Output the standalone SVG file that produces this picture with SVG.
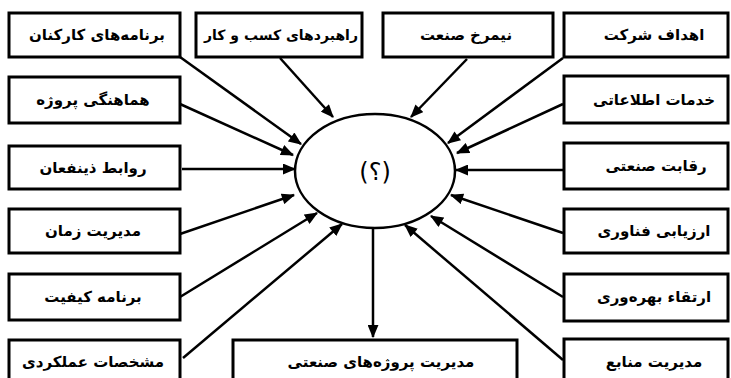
<svg xmlns="http://www.w3.org/2000/svg" width="731" height="378" viewBox="0 0 731 378">
<style>
.box{fill:#fff;stroke:#000;stroke-width:3}
.lbl{font-family:"DejaVu Sans",sans-serif;font-size:15px;font-weight:bold;fill:#000;text-anchor:middle}
.con{stroke:#000;stroke-width:2.5;fill:none;marker-end:url(#ah)}
</style>
<defs>
<marker id="ah" viewBox="0 0 12 10" refX="11" refY="5" markerWidth="5.5" markerHeight="4.4" markerUnits="strokeWidth" orient="auto">
<path d="M0,0 L12,5 L0,10 Z" fill="#000"/>
</marker>
</defs>
<rect width="731" height="378" fill="#fff"/>
<g id="connectors">
<line class="con" x1="180" y1="57" x2="301" y2="144"/>
<line class="con" x1="180" y1="104" x2="293" y2="155"/>
<line class="con" x1="182" y1="169" x2="295" y2="169"/>
<line class="con" x1="180" y1="234" x2="294" y2="195"/>
<line class="con" x1="180" y1="297" x2="317" y2="213"/>
<line class="con" x1="183" y1="358" x2="342" y2="224"/>
<line class="con" x1="280" y1="58" x2="333" y2="117"/>
<line class="con" x1="467" y1="59" x2="411" y2="117"/>
<line class="con" x1="563" y1="58" x2="448" y2="143"/>
<line class="con" x1="563" y1="104" x2="457" y2="153"/>
<line class="con" x1="564" y1="170" x2="456" y2="170"/>
<line class="con" x1="563" y1="233" x2="451" y2="195"/>
<line class="con" x1="563" y1="297" x2="431" y2="216"/>
<line class="con" x1="563" y1="360" x2="405" y2="225"/>
<line class="con" x1="373" y1="228" x2="373" y2="337"/>
</g>
<g id="center">
<ellipse cx="375" cy="171" rx="80" ry="57" fill="#fff" stroke="#000" stroke-width="2.5"/>
<text x="375" y="180" style="font-family:'DejaVu Sans',sans-serif;font-size:24px;text-anchor:middle">(؟)</text>
</g>
<g id="n1"><rect class="box" x="9" y="13" width="171" height="44"/><text class="lbl" x="97" y="40">برنامه‌های کارکنان</text></g>
<g id="n2"><rect class="box" x="196" y="13" width="166" height="44"/><text class="lbl" x="281" y="40" style="font-size:14px">راهبردهای کسب و کار</text></g>
<g id="n3"><rect class="box" x="383" y="13" width="170" height="44"/><text class="lbl" x="466" y="40">نیمرخ صنعت</text></g>
<g id="n4"><rect class="box" x="564" y="13" width="164" height="44"/><text class="lbl" x="654" y="40">اهداف شرکت</text></g>
<g id="n5"><rect class="box" x="9" y="77" width="171" height="46"/><text class="lbl" x="93" y="105">هماهنگی پروژه</text></g>
<g id="n6"><rect class="box" x="564" y="76" width="164" height="47"/><text class="lbl" x="654" y="105">خدمات اطلاعاتی</text></g>
<g id="n7"><rect class="box" x="9" y="146" width="171" height="43"/><text class="lbl" x="93" y="173">روابط ذینفعان</text></g>
<g id="n8"><rect class="box" x="564" y="143" width="164" height="46"/><text class="lbl" x="656" y="171">رقابت صنعتی</text></g>
<g id="n9"><rect class="box" x="9" y="209" width="171" height="44"/><text class="lbl" x="93" y="236">مدیریت زمان</text></g>
<g id="n10"><rect class="box" x="564" y="209" width="164" height="44"/><text class="lbl" x="654" y="236">ارزیابی فناوری</text></g>
<g id="n11"><rect class="box" x="9" y="274" width="171" height="46"/><text class="lbl" x="93" y="302">برنامه کیفیت</text></g>
<g id="n12"><rect class="box" x="564" y="274" width="164" height="47"/><text class="lbl" x="654" y="302">ارتقاء بهره‌وری</text></g>
<g id="n13"><rect class="box" x="9" y="340" width="171" height="44"/><text class="lbl" x="93" y="367">مشخصات عملکردی</text></g>
<g id="n14"><rect class="box" x="233" y="340" width="284" height="44"/><text class="lbl" x="381" y="367">مدیریت پروژه‌های صنعتی</text></g>
<g id="n15"><rect class="box" x="564" y="339" width="164" height="45"/><text class="lbl" x="654" y="367">مدیریت منابع</text></g>
</svg>
